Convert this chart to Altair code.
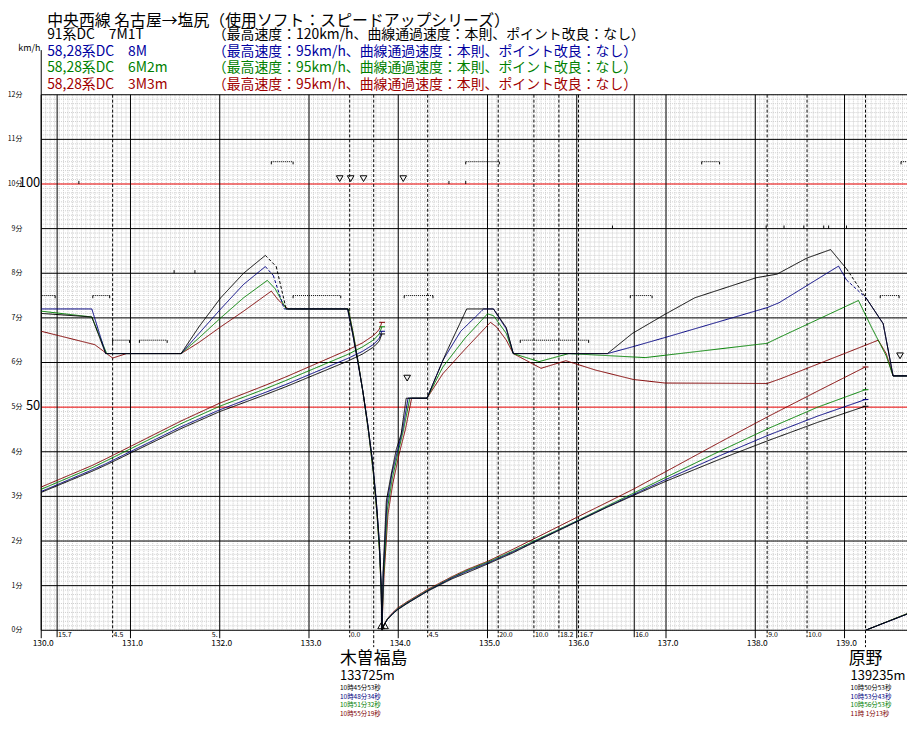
import altair as alt
import pandas as pd
import numpy as np

X0 = 130.0
W, H = 873, 540
X1 = X0 + W / 90.0
FONT = "Noto Sans CJK JP"

TITLE = "中央西線 名古屋→塩尻（使用ソフト：スピードアップシリーズ）"
NAMES = ["91系DC　7M1T", "58,28系DC　8M", "58,28系DC　6M2m", "58,28系DC　3M3m"]
SPECS = ["（最高速度：120km/h、曲線通過速度：本則、ポイント改良：なし）",
         "（最高速度：95km/h、曲線通過速度：本則、ポイント改良：なし）",
         "（最高速度：95km/h、曲線通過速度：本則、ポイント改良：なし）",
         "（最高速度：95km/h、曲線通過速度：本則、ポイント改良：なし）"]
COLORS = ["#000000", "#000080", "#008000", "#800000"]
TEXT_COLORS = ["#000000", "#0000a0", "#008000", "#a00000"]

# ---------------- speed curves (km, km/h) ----------------
black_km = [130.0, 130.567, 130.722, 131.567, 131.767, 132.011, 132.267, 132.511, 132.633, 132.744,
            133.433, 133.489, 133.544, 133.6, 133.656, 133.711, 133.756, 133.789, 133.809, 133.817,
            133.83, 133.867, 133.922, 133.978, 134.033, 134.089, 134.322, 134.544, 134.767, 135.067,
            135.211, 135.289, 136.344, 136.622, 136.989, 137.322, 138.011, 138.244, 138.578, 138.844,
            139.022, 139.244, 139.433, 139.544, 139.75]
black_v = [71.0, 70.2, 62.0, 62.0, 68.0, 74.5, 80.0, 84.0, 81.5, 72.0,
           72.0, 66.5, 60.5, 54.0, 46.5, 38.0, 28.5, 19.5, 10.0, 0.0,
           13.0, 29.0, 35.0, 40.5, 44.0, 52.0, 52.0, 62.5, 72.0, 72.0,
           67.8, 62.0, 62.0, 66.5, 70.8, 74.5, 79.0, 79.8, 83.4, 85.3,
           81.0, 74.4, 68.7, 57.0, 57.0]

blue_km = [130.0, 130.567, 130.722, 131.567, 131.767, 132.011, 132.267, 132.511, 132.6, 132.722,
           133.433, 133.489, 133.544, 133.6, 133.656, 133.711, 133.756, 133.789, 133.809, 133.817,
           133.833, 133.872, 133.928, 133.989, 134.05, 134.11, 134.322, 134.5, 134.7, 134.956,
           135.067, 135.211, 135.289, 136.344, 136.622, 136.989, 138.133, 138.267, 138.933, 139.022,
           139.244, 139.433, 139.544, 139.75]
blue_v = [72.0, 72.0, 62.0, 62.0, 66.5, 72.0, 77.5, 81.5, 79.5, 72.0,
          72.0, 66.5, 60.5, 54.0, 46.5, 38.0, 28.5, 19.5, 10.0, 0.0,
          13.0, 28.0, 35.0, 40.0, 45.0, 52.0, 52.0, 60.5, 67.0, 72.0,
          72.0, 67.5, 62.0, 62.0, 63.5, 65.6, 72.3, 73.4, 81.6, 78.5,
          74.4, 68.7, 57.0, 57.0]

green_km = [130.0, 130.567, 130.733, 131.567, 131.767, 132.011, 132.267, 132.533, 132.622, 132.744,
            133.44, 133.5, 133.556, 133.611, 133.667, 133.72, 133.762, 133.792, 133.81, 133.817,
            133.835, 133.878, 133.933, 134.0, 134.06, 134.13, 134.322, 134.5, 134.75, 135.0,
            135.067, 135.211, 135.289, 135.578, 135.911, 136.767, 138.133, 138.267, 139.156, 139.3,
            139.467, 139.544, 139.75]
green_v = [71.5, 70.2, 62.0, 62.0, 65.5, 70.0, 74.5, 78.4, 76.5, 72.0,
           72.0, 66.0, 59.5, 52.5, 44.5, 35.5, 26.0, 17.0, 8.0, 0.0,
           12.0, 27.0, 34.0, 40.0, 45.0, 52.0, 52.0, 59.0, 65.5, 70.9,
           70.5, 66.5, 62.0, 60.2, 62.0, 61.1, 64.3, 65.6, 73.9, 68.0,
           61.5, 57.0, 57.0]

red_km = [130.0, 130.6, 130.8, 130.956, 131.567, 131.767, 132.011, 132.267, 132.578, 132.656,
          132.767, 133.44, 133.5, 133.556, 133.611, 133.667, 133.72, 133.762, 133.792, 133.81,
          133.817, 133.84, 133.885, 133.94, 134.01, 134.08, 134.15, 134.322, 134.5, 134.75,
          135.033, 135.1, 135.211, 135.289, 135.6, 135.878, 136.211, 136.633, 136.989, 138.133,
          138.289, 139.378, 139.467, 139.544, 139.75]
red_v = [67.0, 64.0, 61.0, 62.0, 62.0, 64.5, 68.0, 71.5, 76.0, 74.0,
         72.0, 72.0, 66.0, 59.5, 52.5, 44.5, 35.5, 26.0, 17.0, 8.0,
         0.0, 12.0, 26.0, 33.0, 39.5, 45.0, 52.0, 52.0, 57.5, 63.0,
         69.0, 68.0, 65.0, 62.0, 58.7, 60.4, 58.3, 56.2, 55.4, 55.3,
         56.4, 65.0, 62.0, 57.0, 57.0]

COAST = {0: [(132.511, 132.744), (139.022, 139.244)], 1: [(132.511, 132.722), (139.022, 139.244)], 2: [], 3: []}

# ---------------- time curves (km, minutes) ----------------
t1_km = [130.0, 130.567, 130.722, 131.567, 132.0, 132.511, 132.744, 133.433, 133.6, 133.711, 133.761, 133.789, 133.817]
black_t1 = [3.09, 3.56, 3.70, 4.52, 4.90, 5.28, 5.46, 6.03, 6.19, 6.33, 6.42, 6.49, 6.64]
blue_t1 = [3.11, 3.59, 3.73, 4.56, 4.94, 5.33, 5.51, 6.09, 6.25, 6.39, 6.48, 6.55, 6.70]
green_t1 = [3.16, 3.64, 3.79, 4.63, 5.02, 5.41, 5.60, 6.18, 6.35, 6.49, 6.58, 6.65, 6.80]
red_t1 = [3.21, 3.69, 3.84, 4.69, 5.09, 5.49, 5.68, 6.28, 6.44, 6.59, 6.68, 6.75, 6.90]

t2_km = [133.822, 133.83, 133.85, 133.878, 133.94, 133.994, 134.1, 134.333, 134.6, 134.77, 135.007,
         135.29, 135.511, 136.0, 136.344, 136.633, 137.011, 137.6, 138.144, 138.7, 139.233]
black_t2 = [0, 0.07, 0.15, 0.24, 0.37, 0.46, 0.60, 0.88, 1.15, 1.29, 1.49, 1.74, 1.96, 2.43, 2.76, 3.02, 3.35, 3.83, 4.25, 4.66, 5.02]
blue_t2 = [0, 0.07, 0.15, 0.24, 0.38, 0.47, 0.61, 0.89, 1.17, 1.32, 1.51, 1.76, 1.97, 2.44, 2.77, 3.04, 3.39, 3.91, 4.37, 4.80, 5.17]
green_t2 = [0, 0.07, 0.15, 0.25, 0.38, 0.48, 0.62, 0.90, 1.18, 1.34, 1.53, 1.78, 1.99, 2.45, 2.79, 3.07, 3.44, 4.01, 4.52, 5.00, 5.39]
red_t2 = [0, 0.08, 0.16, 0.26, 0.40, 0.50, 0.64, 0.92, 1.20, 1.36, 1.55, 1.82, 2.04, 2.53, 2.87, 3.16, 3.57, 4.21, 4.79, 5.36, 5.90]

t3_km = [139.235, 139.75]
black_t3 = [0, 0.40]
blue_t3 = [0, 0.40]
green_t3 = [0, 0.41]
red_t3 = [0, 0.41]

# ---------------- annotations ----------------
STATIONS = ["木曽福島", "原野"]
STATION_KM = [133.725, 139.235]
STATION_M = ["133725m", "139235m"]
STATION_DX = [-34, -15]
STATION_TIMES = [["10時45分53秒", "10時48分34秒", "10時51分32秒", "10時55分19秒"],
                 ["10時50分53秒", "10時53分43秒", "10時56分53秒", "11時 1分13秒"]]

KM_TICKS = [130.0, 131.0, 132.0, 133.0, 134.0, 135.0, 136.0, 137.0, 138.0, 139.0]
KM_LABELS = ["130.0", "131.0", "132.0", "133.0", "134.0", "135.0", "136.0", "137.0", "138.0", "139.0"]

GRAD_KM = [130.178, 130.8, 131.9, 133.456, 134.33, 135.12, 135.52, 135.8, 136.02, 136.644, 138.133, 138.58]
GRAD_LABELS = ["15.7", "4.5", "5.", "0.0", "4.5", "20.0", "10.0", "18.2", "16.7", "16.0", "9.0", "10.0"]
GRAD_LINE = ["solid", "dash", "none", "dash", "dash", "dash", "dash", "dash", "dash", "solid", "dash", "dash"]

LIMIT_START = [129.99, 130.578, 130.8, 131.1, 132.578, 132.822, 134.067, 134.756, 135.367, 136.6, 137.4, 139.4, 139.633]
LIMIT_END = [130.156, 130.767, 130.989, 131.411, 132.822, 133.356, 134.389, 135.133, 136.133, 136.844, 137.6, 139.611, 139.75]
LIMIT_V = [75, 75, 65, 65, 105, 75, 75, 105, 65, 75, 105, 75, 105]

POST_KM = [130.422, 134.568, 134.756, 131.489, 131.722, 136.4, 138.122, 138.322, 138.544, 138.767, 138.822, 139.022]
POST_V = [100, 100, 100, 80, 80, 90, 90, 90, 90, 90, 90, 90]

TRI_KM = [133.344, 133.467, 133.611, 134.056, 134.1, 139.622]
TRI_V = [101.2, 101.2, 101.2, 101.2, 56.5, 61.5]
STOP_KM = [133.808, 133.852]
STOP_V = [1.0, 1.0]

# ---------------- build tables ----------------
xs = alt.Scale(domain=[X0, X1], nice=False, zero=False)
ys = alt.Scale(domain=[0, 120], nice=False, zero=False)
cs = alt.Scale(domain=NAMES, range=COLORS)


def X(f="km"):
    return alt.X(f"{f}:Q", scale=xs, axis=None)


def Y(f="v"):
    return alt.Y(f"{f}:Q", scale=ys, axis=None)


def segs(series, kms, vals, dashed=(), mult=1.0):
    out = []
    for i in range(len(kms) - 1):
        a, b = kms[i], kms[i + 1]
        d = "dash" if any(s <= a and b <= e for s, e in dashed) else "solid"
        out.append(dict(series=series, km=a, v=vals[i] * mult, km2=b, v2=vals[i + 1] * mult, dash=d))
    return out


speed_sets = [(black_km, black_v), (blue_km, blue_v), (green_km, green_v), (red_km, red_v)]
time_sets = [(black_t1, black_t2, black_t3), (blue_t1, blue_t2, blue_t3),
             (green_t1, green_t2, green_t3), (red_t1, red_t2, red_t3)]

rows = []
caps = []
for idx in [3, 2, 1, 0]:
    kms, vs = speed_sets[idx]
    rows += segs(NAMES[idx], kms, vs, COAST[idx])
    t1, t2, t3 = time_sets[idx]
    rows += segs(NAMES[idx], t1_km, t1, mult=10)
    rows += segs(NAMES[idx], t2_km, t2, mult=10)
    rows += segs(NAMES[idx], t3_km, t3, mult=10)
    caps.append(dict(series=NAMES[idx], km=t1_km[-1] - 0.03, km2=t1_km[-1] + 0.035, v=t1[-1] * 10))
    caps.append(dict(series=NAMES[idx], km=t2_km[-1] - 0.03, km2=t2_km[-1] + 0.035, v=t2[-1] * 10))
curves = pd.DataFrame(rows)
caps = pd.DataFrame(caps)

layers = []

# minor dotted grid
GRID = "#cdcdcd"
minor_x = pd.DataFrame({"km": np.round(np.arange(X0, X1, 0.05), 3)})
layers.append(alt.Chart(minor_x).mark_rule(color=GRID, strokeWidth=1, strokeDash=[1, 1]).encode(
    x=X(), y=alt.value(0), y2=alt.value(H)))
minor_y = pd.DataFrame({"v": list(range(0, 121))})
layers.append(alt.Chart(minor_y).mark_rule(color=GRID, strokeWidth=1, strokeDash=[1, 1]).encode(
    y=Y(), x=alt.value(0), x2=alt.value(W)))

# major horizontal lines
major = pd.DataFrame({"v": [v for v in range(0, 121, 10) if v not in (50, 100)]})
layers.append(alt.Chart(major).mark_rule(color="#000000", strokeWidth=1).encode(
    y=Y(), x=alt.value(0), x2=alt.value(W)))
redl = pd.DataFrame({"v": [50, 100]})
layers.append(alt.Chart(redl).mark_rule(color="#ee0000", strokeWidth=1).encode(
    y=Y(), x=alt.value(0), x2=alt.value(W)))

# km lines with ticks
kmdf = pd.DataFrame({"km": KM_TICKS, "lab": KM_LABELS})
layers.append(alt.Chart(kmdf).mark_rule(color="#000000", strokeWidth=1).encode(
    x=X(), y=alt.value(0), y2=alt.value(H + 8)))

# gradient / curve lines
gdf = pd.DataFrame({"km": GRAD_KM, "lab": GRAD_LABELS, "line": GRAD_LINE})
layers.append(alt.Chart(gdf).transform_filter("datum.line == 'solid'").mark_rule(
    color="#000000", strokeWidth=1).encode(x=X(), y=alt.value(0), y2=alt.value(H + 7)))
layers.append(alt.Chart(gdf).transform_filter("datum.line == 'dash'").mark_rule(
    color="#000000", strokeWidth=1, strokeDash=[3, 2]).encode(x=X(), y=alt.value(0), y2=alt.value(H + 7)))

# station lines
sdf = pd.DataFrame({"km": STATION_KM, "name": STATIONS, "m": STATION_M})
layers.append(alt.Chart(sdf).mark_rule(color="#000000", strokeWidth=1, strokeDash=[3, 2]).encode(
    x=X(), y=alt.value(0), y2=alt.value(H + 17)))

# left border
layers.append(alt.Chart(pd.DataFrame({"km": [X0]})).mark_rule(color="#000000", strokeWidth=1).encode(
    x=X(), y=alt.value(-45), y2=alt.value(H)))

# speed limit markers (dotted) with end ticks
ldf = pd.DataFrame({"km": LIMIT_START, "km2": LIMIT_END, "v": LIMIT_V})
layers.append(alt.Chart(ldf).mark_rule(color="#000000", strokeWidth=1, strokeDash=[1, 1], clip=True).encode(
    x=X(), x2="km2:Q", y=Y()))
layers.append(alt.Chart(ldf).transform_calculate(v2="datum.v - 0.6").mark_rule(
    color="#000000", strokeWidth=1, clip=True).encode(x=X(), y=Y(), y2="v2:Q"))
layers.append(alt.Chart(ldf).transform_calculate(v2="datum.v - 0.6").mark_rule(
    color="#000000", strokeWidth=1, clip=True).encode(x=X("km2"), y=Y(), y2="v2:Q"))

# post ticks
pdf = pd.DataFrame({"km": POST_KM, "v": POST_V})
layers.append(alt.Chart(pdf).transform_calculate(v2="datum.v + 0.7").mark_rule(
    color="#000000", strokeWidth=1).encode(x=X(), y=Y(), y2="v2:Q"))

# curves
layers.append(alt.Chart(curves).mark_rule(strokeWidth=1, clip=True).encode(
    x=X(), x2="km2:Q", y=Y(), y2="v2:Q",
    color=alt.Color("series:N", scale=cs, legend=None),
    strokeDash=alt.StrokeDash("dash:N", scale=alt.Scale(domain=["solid", "dash"], range=[[1, 0], [3, 2]]),
                              legend=None)))
layers.append(alt.Chart(caps).mark_rule(strokeWidth=1, clip=True).encode(
    x=X(), x2="km2:Q", y=Y(), color=alt.Color("series:N", scale=cs, legend=None)))

# triangles
tdf = pd.DataFrame({"km": TRI_KM, "v": TRI_V})
layers.append(alt.Chart(tdf).mark_point(shape="triangle-down", size=45, filled=False, color="#000000",
                                        strokeWidth=1, opacity=1).encode(x=X(), y=Y()))
stdf = pd.DataFrame({"km": STOP_KM, "v": STOP_V})
layers.append(alt.Chart(stdf).mark_point(shape="triangle-up", size=45, filled=False, color="#000000",
                                         strokeWidth=1, opacity=1).encode(x=X(), y=Y()))

# left labels
lab = pd.DataFrame({"v": list(range(0, 121, 10))})
lab["t"] = [f"{v // 10}分" for v in lab["v"]]
layers.append(alt.Chart(lab).mark_text(align="right", baseline="middle", font=FONT, fontSize=7,
                                       color="#000000").encode(x=alt.value(-19), y=Y(), text="t:N"))
big = pd.DataFrame({"v": [100, 50], "t": ["100", "50"]})
layers.append(alt.Chart(big).mark_text(align="right", baseline="middle", font=FONT, fontSize=13,
                                       color="#000000", dy=-1).encode(x=alt.value(-1), y=Y(), text="t:N"))
layers.append(alt.Chart(pd.DataFrame({"t": ["km/h"]})).mark_text(
    align="center", baseline="middle", font=FONT, fontSize=9, color="#000000").encode(
    x=alt.value(-12), y=alt.value(-47), text="t:N"))

# km labels & gradient labels
layers.append(alt.Chart(kmdf).mark_text(align="center", baseline="middle", font=FONT, fontSize=8.5,
                                        color="#000000", dx=2).encode(x=X(), y=alt.value(H + 13), text="lab:N"))
layers.append(alt.Chart(gdf).mark_text(align="left", baseline="middle", font=FONT, fontSize=7,
                                       color="#000000", dx=1).encode(x=X(), y=alt.value(H + 5), text="lab:N"))

# station texts
for i in range(2):
    one = pd.DataFrame({"km": [STATION_KM[i]], "name": [STATIONS[i]], "m": [STATION_M[i]]})
    layers.append(alt.Chart(one).mark_text(align="center", baseline="middle", font=FONT, fontSize=17,
                                           color="#000000").encode(x=X(), y=alt.value(H + 29), text="name:N"))
    layers.append(alt.Chart(one).mark_text(align="left", baseline="middle", font=FONT, fontSize=13,
                                           color="#000000", dx=STATION_DX[i]).encode(
        x=X(), y=alt.value(H + 46), text="m:N"))
    tt = pd.DataFrame({"km": [STATION_KM[i]] * 4, "t": STATION_TIMES[i], "series": NAMES,
                       "py": [H + 58.5, H + 67, H + 75.5, H + 84]})
    layers.append(alt.Chart(tt).mark_text(align="left", baseline="middle", font=FONT, fontSize=6.5,
                                          dx=STATION_DX[i]).encode(
        x=X(), y=alt.Y("py:Q", scale=None), text="t:N",
        color=alt.Color("series:N", scale=cs, legend=None)))

# header
hdr = pd.DataFrame({
    "t": [TITLE] + NAMES + SPECS,
    "px": [6] + [6] * 4 + [173] * 4,
    "py": [-74.5, -60, -43.5, -26.5, -9.5, -60, -43.5, -26.5, -9.5],
    "col": ["#000000"] + TEXT_COLORS + TEXT_COLORS,
    "fs": [16] + [14] * 8,
})
layers.append(alt.Chart(hdr).mark_text(align="left", baseline="middle", font=FONT).encode(
    x=alt.X("px:Q", scale=None), y=alt.Y("py:Q", scale=None), text="t:N",
    color=alt.Color("col:N", scale=None), size=alt.Size("fs:Q", scale=None)))

chart = alt.layer(*layers).properties(
    width=W, height=H,
    padding={"left": 33.5, "top": 84.5, "right": 0, "bottom": 86},
    autosize=alt.AutoSizeParams(type="none"),
    background="#ffffff",
).configure_view(stroke=None)

chart.save("out.html", embed_options={"renderer": "svg", "actions": False})
